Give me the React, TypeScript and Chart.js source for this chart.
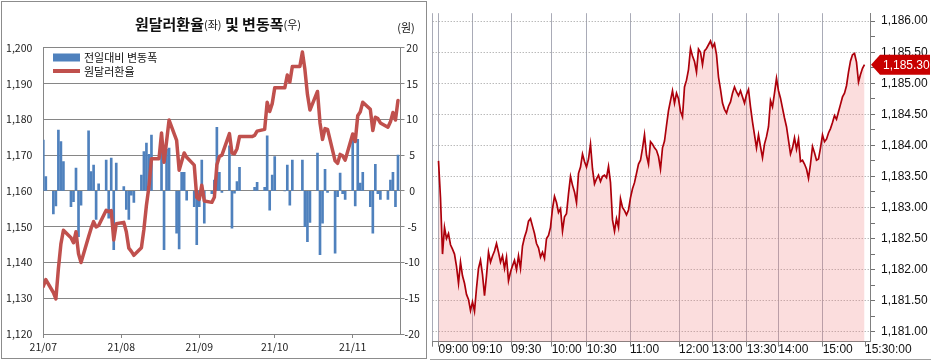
import React, { useEffect, useRef } from 'react';
import { Chart, registerables } from 'chart.js';

Chart.register(...registerables);

// ---------------- LEFT PANEL DATA ----------------
const tradeDates = [
  '2021-07-01','2021-07-02','2021-07-05','2021-07-06','2021-07-07','2021-07-08','2021-07-09',
  '2021-07-12','2021-07-13','2021-07-14','2021-07-15','2021-07-16',
  '2021-07-19','2021-07-20','2021-07-21','2021-07-22','2021-07-23',
  '2021-07-26','2021-07-27','2021-07-28','2021-07-29','2021-07-30',
  '2021-08-02','2021-08-03','2021-08-04','2021-08-05','2021-08-06',
  '2021-08-09','2021-08-10','2021-08-11','2021-08-12','2021-08-13',
  '2021-08-16','2021-08-17','2021-08-18','2021-08-19','2021-08-20',
  '2021-08-23','2021-08-24','2021-08-25','2021-08-26','2021-08-27',
  '2021-08-30','2021-08-31','2021-09-01','2021-09-02','2021-09-03',
  '2021-09-06','2021-09-07','2021-09-08','2021-09-09','2021-09-10',
  '2021-09-13','2021-09-14','2021-09-15','2021-09-16','2021-09-17',
  '2021-09-20','2021-09-21','2021-09-22','2021-09-23','2021-09-24',
  '2021-09-27','2021-09-28','2021-09-29','2021-09-30','2021-10-01',
  '2021-10-04','2021-10-05','2021-10-06','2021-10-07','2021-10-08',
  '2021-10-11','2021-10-12','2021-10-13','2021-10-14','2021-10-15',
  '2021-10-18','2021-10-19','2021-10-20','2021-10-21','2021-10-22',
  '2021-10-25','2021-10-26','2021-10-27','2021-10-28','2021-10-29',
  '2021-11-01','2021-11-02','2021-11-03','2021-11-04','2021-11-05',
  '2021-11-08','2021-11-09','2021-11-10','2021-11-11','2021-11-12',
  '2021-11-15','2021-11-16','2021-11-17','2021-11-18','2021-11-19',
];

const usdKrwClose = [
  1133.3, 1135.2, 1131.6, 1129.8, 1138.3, 1145.2, 1149.0,
  1146.9, 1145.5, 1148.6, 1142.4, 1140.0,
  1147.2, 1149.5, 1151.4, 1149.9, 1150.3,
  1154.6, 1154.2, 1154.5, 1146.3, 1150.8,
  1151.2, 1148.6, 1144.0, 1143.1, 1142.0,
  1144.1, 1149.3, 1156.0, 1161.2, 1169.0,
  1169.0, 1176.2, 1168.0, 1173.8, 1179.8,
  1174.1, 1165.8, 1168.2, 1170.6, 1169.4,
  1167.2, 1158.2, 1157.6, 1161.6, 1157.2,
  1156.8, 1158.2, 1167.3, 1169.6, 1170.0,
  1176.0, 1170.6, 1170.4, 1171.8, 1175.2,
  1175.2, 1175.2, 1175.2, 1175.5, 1176.7,
  1177.2, 1184.8, 1182.2, 1184.4, 1188.8,
  1188.8, 1188.8, 1192.4, 1190.4, 1194.8,
  1194.8, 1198.8, 1193.9, 1187.0, 1182.6,
  1187.8, 1179.0, 1174.4, 1177.4, 1177.2,
  1168.4, 1167.7, 1170.2, 1169.8, 1168.6,
  1175.9, 1173.8, 1181.0, 1182.1, 1184.8,
  1182.8, 1176.9, 1180.6, 1180.2, 1179.0,
  1177.8, 1179.3, 1181.9, 1179.8, 1185.3,
];

// null = market holiday (no change bar)
const dailyChange = [
  7.1, 2.0, -3.2, -2.1, 8.5, 6.9, 4.1,
  -2.2, -1.5, 3.2, -6.4, -2.0,
  8.4, 2.7, 3.6, -4.0, 1.0,
  4.3, -3.8, 4.6, -8.2, 3.9,
  0.6, -2.6, -4.0, -0.6, -1.6,
  2.2, 5.5, 6.7, 5.1, 7.8,
  null, 7.2, -8.2, 5.8, 6.0,
  -5.9, -8.1, 2.6, 2.6, -1.3,
  -2.2, -7.5, -2.2, 4.3, -4.5,
  -0.4, 1.5, 8.9, 2.6, -0.2,
  6.3, -5.2, -0.3, 1.3, 3.3,
  null, null, null, 0.5, 1.2,
  0.5, 7.7, -2.7, 2.2, 4.8,
  null, 0.0, 3.6, -2.0, 4.3,
  null, 4.3, -5.0, -7.1, -4.4,
  5.3, -8.9, -4.5, 3.0, -0.2,
  -8.7, -0.8, 2.5, -0.4, -1.2,
  7.3, -2.1, 7.2, 1.1, 2.6,
  -2.2, -5.9, 3.7, -0.4, -1.2,
  -1.2, 1.5, 2.6, -2.2, 5.0,
];

const monthTickDates = ['2021-07-01', '2021-08-01', '2021-09-01', '2021-10-01', '2021-11-01'];
const monthTickLabels = ['21/07', '21/08', '21/09', '21/10', '21/11'];

// ---------------- RIGHT PANEL DATA ----------------
const intradayRate = [
  1183.75, 1183.15, 1182.25, 1182.68, 1182.50, 1182.58, 1182.40, 1182.33, 1182.25, 1182.05,
  1181.78, 1182.12, 1181.90, 1181.78, 1181.60, 1181.52, 1181.34, 1181.48, 1181.33, 1181.70,
  1182.02, 1182.15, 1181.92, 1181.58, 1181.90, 1182.28, 1182.12, 1182.22, 1182.30, 1182.42,
  1182.28, 1182.12, 1182.22, 1182.02, 1182.20, 1181.82, 1181.96, 1182.06, 1182.15, 1182.00,
  1182.22, 1182.02, 1182.38, 1182.52, 1182.62, 1182.78, 1182.82, 1182.70, 1182.58, 1182.42,
  1182.35, 1182.20, 1182.28, 1182.18, 1182.50, 1182.55, 1182.68, 1182.98, 1183.18, 1183.08,
  1182.92, 1182.98, 1182.62, 1182.85, 1182.90, 1183.22, 1183.50, 1183.36, 1183.25, 1183.08,
  1183.55, 1183.65, 1183.86, 1183.74, 1183.65, 1183.78, 1184.02, 1183.62, 1183.38, 1183.46,
  1183.52, 1183.42, 1183.50, 1183.52, 1183.48, 1183.66, 1183.40, 1182.80, 1182.62, 1182.82,
  1182.68, 1183.14, 1183.00, 1182.95, 1182.88, 1182.96, 1183.16, 1183.30, 1183.40, 1183.55,
  1183.70, 1183.76, 1183.95, 1184.17, 1183.84, 1183.70, 1184.06, 1184.02, 1183.96, 1183.92,
  1183.82, 1183.62, 1183.96, 1184.07, 1184.32, 1184.56, 1184.72, 1184.88, 1184.68, 1184.84,
  1184.75, 1184.55, 1184.46, 1184.94, 1185.05, 1185.22, 1185.56, 1185.44, 1185.35, 1185.18,
  1185.55, 1185.50, 1185.30, 1185.52, 1185.56, 1185.62, 1185.68, 1185.58, 1185.64, 1185.46,
  1185.10, 1184.90, 1184.68, 1184.58, 1184.52, 1184.63, 1184.70, 1184.84, 1184.94, 1184.86,
  1184.80, 1184.88, 1184.78, 1184.68, 1184.82, 1184.90, 1184.62, 1184.38, 1184.17, 1183.96,
  1184.17, 1183.98, 1183.80, 1184.02, 1184.14, 1184.30, 1184.72, 1184.62, 1184.84, 1185.08,
  1184.88, 1184.76, 1184.60, 1184.44, 1184.30, 1184.08, 1183.86, 1183.96, 1184.12, 1183.94,
  1184.10, 1183.74, 1183.76, 1183.70, 1183.62, 1183.47, 1183.70, 1183.98, 1183.88, 1183.76,
  1183.78, 1183.96, 1184.17, 1184.06, 1184.10, 1184.20, 1184.27, 1184.37, 1184.48, 1184.42,
  1184.54, 1184.66, 1184.78, 1184.84, 1184.96, 1185.18, 1185.36, 1185.46, 1185.48, 1185.34,
  1185.02, 1185.14, 1185.24, 1185.30,
];

// position of each time label along the tick sequence
const timeTickPos = [-2.9, 0, 16.9, 36.4, 56.6, 74.1, 95.75, 120.25, 136.9, 154.1, 169.9, 192.1, 213.25];
const timeTickLabels = ['', '09:00', '09:10', '09:30', '10:00', '10:30', '11:00', '12:00', '13:00', '13:30', '14:00', '15:00', '15:30:00'];
const lastRate = 1185.3;

// ---------------- helpers ----------------
const KR = '"Noto Sans CJK KR", "Noto Sans", sans-serif';
const LAT = '"Liberation Sans", Arial, sans-serif';
const BASE = Date.UTC(2021, 6, 1);
const dayOf = (s: string) => {
  const [y, m, d] = s.split('-').map(Number);
  return Math.round((Date.UTC(y, m - 1, d) - BASE) / 86400000);
};
const monthTickDays = monthTickDates.map(dayOf);
const fmt2 = (v: number) => v.toLocaleString('en-US', { minimumFractionDigits: 2, maximumFractionDigits: 2 });
const isMajorRate = (v: number) => Math.abs(Math.round(v * 100) % 50) === 0;

const leftDeco = {
  id: 'leftDeco',
  afterDraw(chart: any) {
    const ctx = chart.ctx;
    ctx.save();
    // frame
    ctx.strokeStyle = '#8c8c8c';
    ctx.lineWidth = 1;
    ctx.strokeRect(1.5, 1.5, 425, 357);
    // title
    const pieces: [string, string, number][] = [
      ['원달러환율', 'bold 15px ' + KR, 24],
      ['(좌)', '11px ' + KR, 25],
      [' 및 ', 'bold 15px ' + KR, 24],
      ['변동폭', 'bold 15px ' + KR, 24],
      ['(우)', '11px ' + KR, 25],
    ];
    let total = 0;
    const widths = pieces.map(([t, f]) => { ctx.font = f; const w = ctx.measureText(t).width; total += w; return w; });
    let x = 218 - total / 2;
    ctx.fillStyle = '#111';
    ctx.textAlign = 'left';
    ctx.textBaseline = 'middle';
    pieces.forEach(([t, f, y], i) => { ctx.font = f; ctx.fillText(t, x, y); x += widths[i]; });
    // unit
    ctx.font = '11px ' + KR;
    ctx.textAlign = 'center';
    ctx.fillText('(원)', 406, 28);
    // legend
    ctx.fillStyle = '#4f81bd';
    ctx.fillRect(53, 53.5, 27, 8);
    ctx.strokeStyle = '#c0504d';
    ctx.lineWidth = 4;
    ctx.beginPath();
    ctx.moveTo(53, 71);
    ctx.lineTo(80, 71);
    ctx.stroke();
    ctx.fillStyle = '#111';
    ctx.textAlign = 'left';
    ctx.font = '11px ' + KR;
    ctx.fillText('전일대비 변동폭', 84, 57.5);
    ctx.fillText('원달러환율', 84, 71.5);
    ctx.restore();
  },
};

const rightDeco = {
  id: 'rightDeco',
  afterDraw(chart: any) {
    const { ctx } = chart;
    const y = chart.scales.y;
    const py = y.getPixelForValue(lastRate);
    const x0 = y.left + 1;
    ctx.save();
    ctx.fillStyle = '#c80000';
    ctx.beginPath();
    ctx.moveTo(x0, py);
    ctx.lineTo(x0 + 9, py - 10);
    ctx.lineTo(chart.width - 1, py - 10);
    ctx.lineTo(chart.width - 1, py + 10);
    ctx.lineTo(x0 + 9, py + 10);
    ctx.closePath();
    ctx.fill();
    ctx.fillStyle = '#fff';
    ctx.font = '12px ' + LAT;
    ctx.textAlign = 'left';
    ctx.textBaseline = 'middle';
    ctx.fillText(fmt2(lastRate), x0 + 12, py + 1);
    ctx.strokeStyle = '#a0a0a0';
    ctx.lineWidth = 1;
    ctx.beginPath();
    ctx.moveTo(0, 359.5);
    ctx.lineTo(chart.width, 359.5);
    ctx.stroke();
    ctx.restore();
  },
};

export default function App() {
  const leftRef = useRef<HTMLCanvasElement>(null);
  const rightRef = useRef<HTMLCanvasElement>(null);

  useEffect(() => {
    const lineData = tradeDates.map((d, i) => ({ x: dayOf(d), y: usdKrwClose[i] }));
    const barData = tradeDates
      .map((d, i) => ({ x: dayOf(d), y: dailyChange[i] }))
      .filter((p) => p.y !== null);

    const left = new Chart(leftRef.current as HTMLCanvasElement, {
      type: 'bar',
      data: {
        datasets: [
          {
            type: 'line',
            label: '원달러환율',
            data: lineData,
            yAxisID: 'y',
            borderColor: '#c0504d',
            borderWidth: 3.5,
            pointRadius: 0,
            tension: 0,
            order: 0,
            borderJoinStyle: 'round',
            borderCapStyle: 'round',
          } as any,
          {
            type: 'bar',
            label: '전일대비 변동폭',
            data: barData,
            yAxisID: 'y1',
            backgroundColor: '#4f81bd',
            barThickness: 2,
            order: 1,
          } as any,
        ],
      },
      options: {
        responsive: false,
        animation: false,
        events: [],
        layout: { padding: { top: 47.8, left: 0, right: 0, bottom: 0 } },
        plugins: { legend: { display: false }, tooltip: { enabled: false } },
        scales: {
          x: {
            type: 'linear',
            min: 0,
            max: 142,
            offset: false,
            afterBuildTicks: (s: any) => { s.ticks = monthTickDays.map((v) => ({ value: v })); },
            afterFit: (s: any) => { s.height = 27; },
            grid: { offset: false, drawOnChartArea: false, drawTicks: true, tickLength: 4, color: '#868686' },
            border: { color: '#868686' },
            ticks: {
              autoSkip: false,
              maxRotation: 0,
              padding: 3,
              color: '#222',
              font: { family: KR, size: 10.5 },
              callback: (v: any) => { const i = monthTickDays.indexOf(Number(v)); return i >= 0 ? monthTickLabels[i] : ''; },
            },
          },
          y: {
            position: 'left',
            min: 1120,
            max: 1200,
            afterFit: (s: any) => { s.width = 43.3; },
            grid: { color: '#868686', drawTicks: false },
            border: { color: '#868686' },
            ticks: { stepSize: 10, padding: 11, color: '#222', font: { family: KR, size: 10.5 }, callback: (v: any) => Number(v).toLocaleString('en-US') },
          },
          y1: {
            position: 'right',
            min: -20,
            max: 20,
            afterFit: (s: any) => { s.width = 29.5; },
            grid: { drawOnChartArea: false, drawTicks: true, tickLength: 4, color: '#868686' },
            border: { color: '#868686' },
            ticks: { stepSize: 5, crossAlign: 'center', padding: 0, color: '#222', font: { family: KR, size: 10.5 } },
          },
        },
      } as any,
      plugins: [leftDeco],
    });

    const right = new Chart(rightRef.current as HTMLCanvasElement, {
      type: 'line',
      data: {
        datasets: [
          {
            data: intradayRate.map((v, i) => ({ x: i, y: v })),
            borderColor: '#ad000b',
            borderWidth: 1.7,
            backgroundColor: 'rgba(240,120,120,0.25)',
            fill: 'start',
            pointRadius: 0,
            tension: 0,
          },
        ],
      },
      options: {
        responsive: false,
        animation: false,
        events: [],
        layout: { padding: { top: 0, left: 2.7, right: 0, bottom: 0 } },
        plugins: { legend: { display: false }, tooltip: { enabled: false } },
        scales: {
          x: {
            type: 'linear',
            min: -2.9,
            max: 215.75,
            afterBuildTicks: (s: any) => { s.ticks = timeTickPos.map((v) => ({ value: v })); },
            afterFit: (s: any) => { s.height = 19.3; },
            grid: {
              color: (c: any) => (c.index === timeTickPos.length - 1 ? 'rgba(0,0,0,0)' : '#a9abb7'),
              lineWidth: 1,
              drawTicks: true,
              tickLength: 5,
              tickColor: '#808080',
            },
            border: { color: '#808080', width: 1 },
            ticks: {
              align: 'start',
              autoSkip: false,
              maxRotation: 0,
              padding: -4,
              color: '#111',
              font: { family: LAT, size: 12 },
              callback: (_v: any, i: number) => timeTickLabels[i],
            },
          },
          y: {
            position: 'right',
            min: 1180.839,
            max: 1186.128,
            afterBuildTicks: (s: any) => {
              const t: any[] = [];
              for (let k = 0; k <= 20; k++) t.push({ value: 1181 + k * 0.25 });
              s.ticks = t;
            },
            afterFit: (s: any) => { s.width = 61; },
            grid: {
              color: (c: any) => (c.tick && isMajorRate(c.tick.value) ? '#9b9b9b' : 'rgba(0,0,0,0)'),
              tickColor: '#707070',
              tickLength: 5,
              drawTicks: true,
            },
            border: { dash: [1, 2], color: '#808080', width: 1 },
            ticks: {
              autoSkip: false,
              padding: 6,
              color: '#111',
              font: { family: LAT, size: 12 },
              callback: (v: any) => (isMajorRate(Number(v)) ? fmt2(Number(v)) : ''),
            },
          },
        },
      } as any,
      plugins: [rightDeco],
    });

    return () => {
      left.destroy();
      right.destroy();
    };
  }, []);

  return (
    <div style={{ position: 'absolute', left: 0, top: 0, width: 931, height: 361, background: '#fff' }}>
      <div style={{ position: 'absolute', left: 0, top: 0, width: 430, height: 361 }}>
        <canvas ref={leftRef} width={430} height={361} style={{ width: 430, height: 361, display: 'block' }} />
      </div>
      <div style={{ position: 'absolute', left: 430, top: 0, width: 501, height: 361 }}>
        <canvas ref={rightRef} width={501} height={361} style={{ width: 501, height: 361, display: 'block' }} />
      </div>
    </div>
  );
}
